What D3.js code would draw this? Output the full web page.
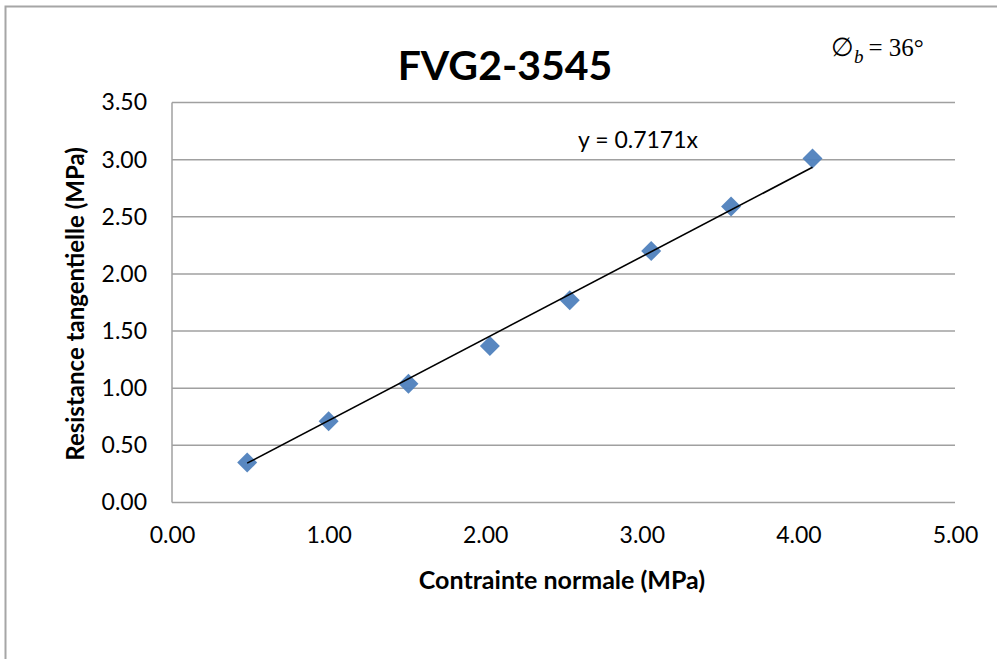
<!DOCTYPE html>
<html><head><meta charset="utf-8">
<script src="https://cdn.jsdelivr.net/npm/d3@7"></script>
<style>
body{margin:0;background:#fff;}
svg{display:block;}
</style></head>
<body><svg id="c" width="997" height="659"></svg>
<script>
const normalStress = [0.48, 1.00, 1.51, 2.03, 2.54, 3.06, 3.57, 4.09];
const shearStrength = [0.35, 0.71, 1.04, 1.37, 1.77, 2.20, 2.59, 3.01];
const slope = 0.7171;
const xTicks = [0, 1, 2, 3, 4, 5];
const yTicks = [0, 0.5, 1, 1.5, 2, 2.5, 3, 3.5];
const titleText = "FVG2-3545";
const xLabel = "Contrainte normale (MPa)";
const yLabel = "Resistance tangentielle (MPa)";
const eqText = "y = 0.7171x";

const SANS = "Lato,'Open Sans',sans-serif";
const SERIF = "'Liberation Serif','DejaVu Serif',serif";

const svg = d3.select("#c");
// outer chart border
svg.append("rect").attr("x",5.5).attr("y",6.5).attr("width",1000).attr("height",700)
  .attr("fill","none").attr("stroke","#a6a6a6").attr("stroke-width",2);

const L=172, R=955, T=102.5, B=502.5;
const x = d3.scaleLinear().domain([0,5]).range([L,R]);
const y = d3.scaleLinear().domain([0,3.5]).range([B,T]);

// gridlines
svg.append("g").selectAll("line").data(yTicks).join("line")
  .attr("x1",L).attr("x2",R).attr("y1",d=>y(d)).attr("y2",d=>y(d))
  .attr("stroke","#a0a0a0").attr("stroke-width",1.5);
// left axis line
svg.append("line").attr("x1",L).attr("x2",L).attr("y1",T).attr("y2",B)
  .attr("stroke","#a0a0a0").attr("stroke-width",1.5);

// axes labels via d3 axes
const yAxis = svg.append("g").attr("transform",`translate(${L},0)`)
  .call(d3.axisLeft(y).tickValues(yTicks).tickFormat(d3.format(".2f")).tickSize(0).tickPadding(25));
yAxis.select(".domain").remove();
yAxis.selectAll("text").attr("fill","#000").style("font-family",SANS).style("font-size","23px");

const xAxis = svg.append("g").attr("transform",`translate(0,${B})`)
  .call(d3.axisBottom(x).tickValues(xTicks).tickFormat(d3.format(".2f")).tickSize(0).tickPadding(24));
xAxis.select(".domain").remove();
xAxis.selectAll("text").attr("fill","#000").style("font-family",SANS).style("font-size","23px");

// points
svg.append("g").selectAll("path").data(normalStress).join("path")
  .attr("d", d3.symbol().type(d3.symbolSquare).size(200))
  .attr("transform",(d,i)=>`translate(${x(d)},${y(shearStrength[i])}) rotate(45)`)
  .attr("fill","#4f81bd").attr("opacity",0.95);

// trendline
const x0 = d3.min(normalStress), x1 = d3.max(normalStress);
svg.append("line").attr("x1",x(x0)).attr("y1",y(slope*x0)).attr("x2",x(x1)).attr("y2",y(slope*x1))
  .attr("stroke","#000").attr("stroke-width",1.6);

// equation
svg.append("text").attr("x",578).attr("y",148).style("font-family",SANS).style("font-size","23px").attr("fill","#000").text(eqText);

// title
svg.append("text").attr("x",505).attr("y",80).attr("text-anchor","middle")
  .style("font-family",SANS).style("font-size","41px").style("font-weight","bold").attr("fill","#000").text(titleText);

// phi_b annotation
const phi = svg.append("text").attr("x",831).attr("y",56).style("font-family",SERIF).style("font-size","25px").attr("fill","#000");
phi.append("tspan").style("font-family","'DejaVu Serif',serif").style("font-size","26px").text("∅");
phi.append("tspan").style("font-style","italic").style("font-size","19px").attr("dx",0).attr("dy",7).text("b");
phi.append("tspan").attr("dy",-7).attr("dx",5).text("= 36°");

// axis titles
svg.append("text").attr("x",562).attr("y",589).attr("text-anchor","middle")
  .style("font-family",SANS).style("font-size","25px").style("font-weight","bold").attr("fill","#000").text(xLabel);
svg.append("text").attr("transform","translate(84,304) rotate(-90)").attr("text-anchor","middle")
  .style("font-family",SANS).style("font-size","24px").style("font-weight","bold").attr("fill","#000").text(yLabel);
</script></body></html>
